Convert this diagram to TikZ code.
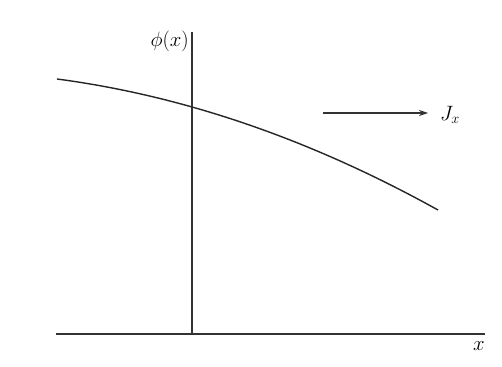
\documentclass[tikz,border=0pt]{standalone}
\usepackage{amsmath}
\usetikzlibrary{arrows.meta}
\begin{document}
\begin{tikzpicture}[x=1pt,y=-1pt,
  axis/.style={line width=1.1pt,draw=black!80},
  curve/.style={line width=1.4pt,draw=black!85},
  lbl/.style={inner sep=0pt,font=\huge}]
\useasboundingbox (0,0) rectangle (502,366);
\fill[white] (0,0) rectangle (502,366);
% axes
\coordinate (xl) at (56,334);
\coordinate (xr) at (485,334);
\coordinate (yb) at (192,334);
\coordinate (yt) at (192,32);
\draw[axis] (xl) -- (xr);
\draw[axis] (yb) -- (yt);
\node[lbl,anchor=east] (phi) at (189,41) {$\phi(x)$};
\node[lbl] (xlab) at (479,346) {$x$};
% curve
\coordinate (c0) at (57,79);
\coordinate (c1) at (438,210);
\draw[curve] (c0) .. controls (184,95.8) and (311,139.5) .. (c1);
% flux arrow
\coordinate (a0) at (323,113);
\node[lbl] (J) at (450,115) {$J_x$};
\draw[axis,-{Stealth[length=9pt,width=6pt]}] (a0) -- (428,113);
\end{tikzpicture}
\end{document}
